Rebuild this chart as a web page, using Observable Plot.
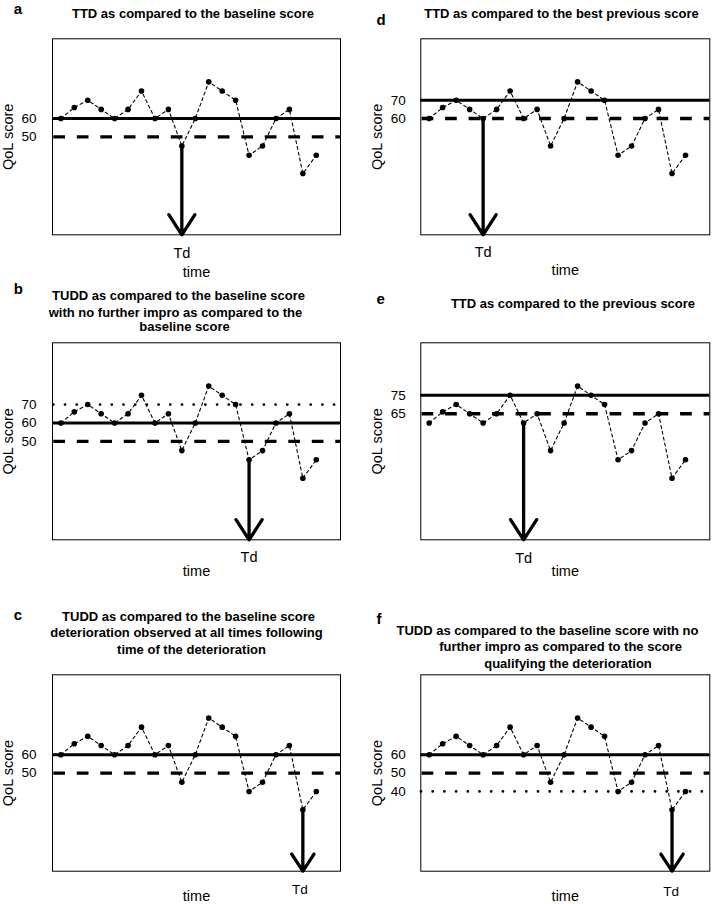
<!DOCTYPE html>
<html><head><meta charset="utf-8">
<script src="https://cdn.jsdelivr.net/npm/d3@7"></script>
<script src="https://cdn.jsdelivr.net/npm/@observablehq/plot@0.6"></script>
<style>
html,body{margin:0;padding:0;background:#fff;}
#chart{position:relative;width:712px;height:904px;overflow:hidden;font-family:"Liberation Sans",Arial,sans-serif;}
#chart svg{position:absolute;overflow:visible;}
</style></head><body><div id="chart"></div>
<script>
// ---- data ----
const times = [1,2,3,4,5,6,7,8,9,10,11,12,13,14,15,16,17,18,19,20];
const scores = [60,66,70,65,60,65,75,60,65,45,60,80,75,70,40,45,60,65,30,40];
const letters = ["a","b","c","d","e","f"];
const titles = [
  ["TTD as compared to the baseline score"],
  ["TUDD as compared to the baseline score","with no further impro as compared to the","baseline score"],
  ["TUDD as compared to the baseline score","deterioration observed at all times following","time of the deterioration"],
  ["TTD as compared to the best previous score"],
  ["TTD as compared to the previous score"],
  ["TUDD as compared to the baseline score with no","further impro as compared to the score","qualifying the deterioration"]
];
const solidLevels = [60,60,60,70,75,60];
const dashedLevels = [50,50,50,60,65,50];
const dottedLevels = [null,70,null,null,null,40];
const tdTimes = [10,15,19,5,8,19];
const tickValues = [[60,50],[70,60,50],[60,50],[70,60],[75,65],[60,50,40]];
const yLabel = "QoL score";
const xLabel = "time";
const tdLabel = "Td";

// ---- layout ----
const xDomain = [0.38, 21.8];
const yDomain = [-3.4, 103.5];
const layout = [
  {left:0, top:0, h:280, mL:52, mR:16, mT:38.3, mB:45.7, pad:16, lDx:-38.7, lDy:-25, tDx:[-3.5], tDy:[-20.6], tdDx:0, tdDy:23.4, tdSize:14.5, timeDy:42.4, dotOff:0},
  {left:0, top:280, h:310, mL:52, mR:16, mT:62.3, mB:50.7, pad:16, lDx:-38.7, lDy:-49, tDx:[-18,-21,-12], tDy:[-43,-26.3,-12.3], tdDx:0, tdDy:22.4, tdSize:14.5, timeDy:36.2, dotOff:-1.3},
  {left:0, top:590, h:314, mL:52, mR:16, mT:84.3, mB:33.3, pad:16, lDx:-38.7, lDy:-55, tDx:[-8,-10,-5], tDy:[-53.6,-37.6,-21], tdDx:-3, tdDy:22.6, tdSize:13.5, timeDy:29.3, dotOff:0},
  {left:356, top:0, h:280, mL:64.3, mR:2.7, mT:38.3, mB:45.7, pad:15, lDx:-44.3, lDy:-14.3, tDx:[-3.8], tDy:[-21], tdDx:0, tdDy:22.4, tdSize:14.5, timeDy:40.4, dotOff:0},
  {left:356, top:280, h:310, mL:64.3, mR:2.7, mT:62.3, mB:50.7, pad:15, lDx:-44.3, lDy:-39, tDx:[7.7], tDy:[-35], tdDx:0, tdDy:23.4, tdSize:14.5, timeDy:35.7, dotOff:0},
  {left:356, top:590, h:314, mL:64.3, mR:2.7, mT:84.3, mB:33.3, pad:15, lDx:-44.3, lDy:-51, tDx:[-17.8,-4.8,2.7], tDy:[-40.3,-23.8,-7.3], tdDx:-1, tdDy:24.3, tdSize:13.5, timeDy:29.3, dotOff:-12.4}
];

const chart = document.getElementById("chart");
const pts = times.map((t, k) => ({t, v: scores[k]}));

for (let i = 0; i < 6; i++) {
  const L = layout[i];
  const td = tdTimes[i];
  const tdV = scores[times.indexOf(td)];
  const marks = [
    Plot.ruleY([solidLevels[i]], {stroke:"#000", strokeWidth:3}),
    Plot.ruleY([dashedLevels[i]], {stroke:"#000", strokeWidth:3.4, strokeDasharray:"11.7,11.8", strokeDashoffset:-1.3})
  ];
  if (dottedLevels[i] != null) {
    marks.push(Plot.ruleY([dottedLevels[i]], {stroke:"#000", strokeWidth:2.8, strokeLinecap:"round", strokeDasharray:"0,11.7", strokeDashoffset:L.dotOff}));
  }
  marks.push(
    Plot.line(pts, {x:"t", y:"v", stroke:"#000", strokeWidth:1.1, strokeDasharray:"3,3"}),
    Plot.dot(pts, {x:"t", y:"v", r:2.8, fill:"#000"}),
    Plot.arrow([{t:td, v:tdV}], {x1:"t", x2:"t", y1:"v", y2:() => yDomain[0], stroke:"#000", strokeWidth:3.3, headLength:10.9, headAngle:66}),
    Plot.frame({stroke:"#000", strokeWidth:1}),
    Plot.axisY(tickValues[i], {tickSize:0, tickPadding:L.pad, fontSize:13.5, label:null}),
    Plot.text([yLabel], {frameAnchor:"left", textAnchor:"middle", dx:-43.7, rotate:-90, fontSize:14.5}),
    Plot.text([{t:td}], {x:"t", text:() => tdLabel, frameAnchor:"bottom", dx:L.tdDx, dy:L.tdDy, lineAnchor:"bottom", fontSize:L.tdSize}),
    Plot.text([xLabel], {frameAnchor:"bottom", dy:L.timeDy, lineAnchor:"bottom", fontSize:14.5}),
    Plot.text([letters[i]], {frameAnchor:"top-left", dx:L.lDx, dy:L.lDy, textAnchor:"start", lineAnchor:"bottom", fontSize:15, fontWeight:"bold"}),
    ...titles[i].map((line, j) => Plot.text([line], {frameAnchor:"top", dx:L.tDx[j], dy:L.tDy[j], lineAnchor:"bottom", fontSize:13, fontWeight:"bold"}))
  );
  const svg = Plot.plot({
    width: 356,
    height: L.h,
    marginLeft: L.mL, marginRight: L.mR, marginTop: L.mT, marginBottom: L.mB,
    x: {domain: xDomain, axis: null},
    y: {domain: yDomain},
    style: {fontFamily: '"Liberation Sans", Arial, sans-serif', background: "transparent", color: "#000"},
    marks
  });
  svg.style.left = L.left + "px";
  svg.style.top = L.top + "px";
  chart.appendChild(svg);
}
</script></body></html>
